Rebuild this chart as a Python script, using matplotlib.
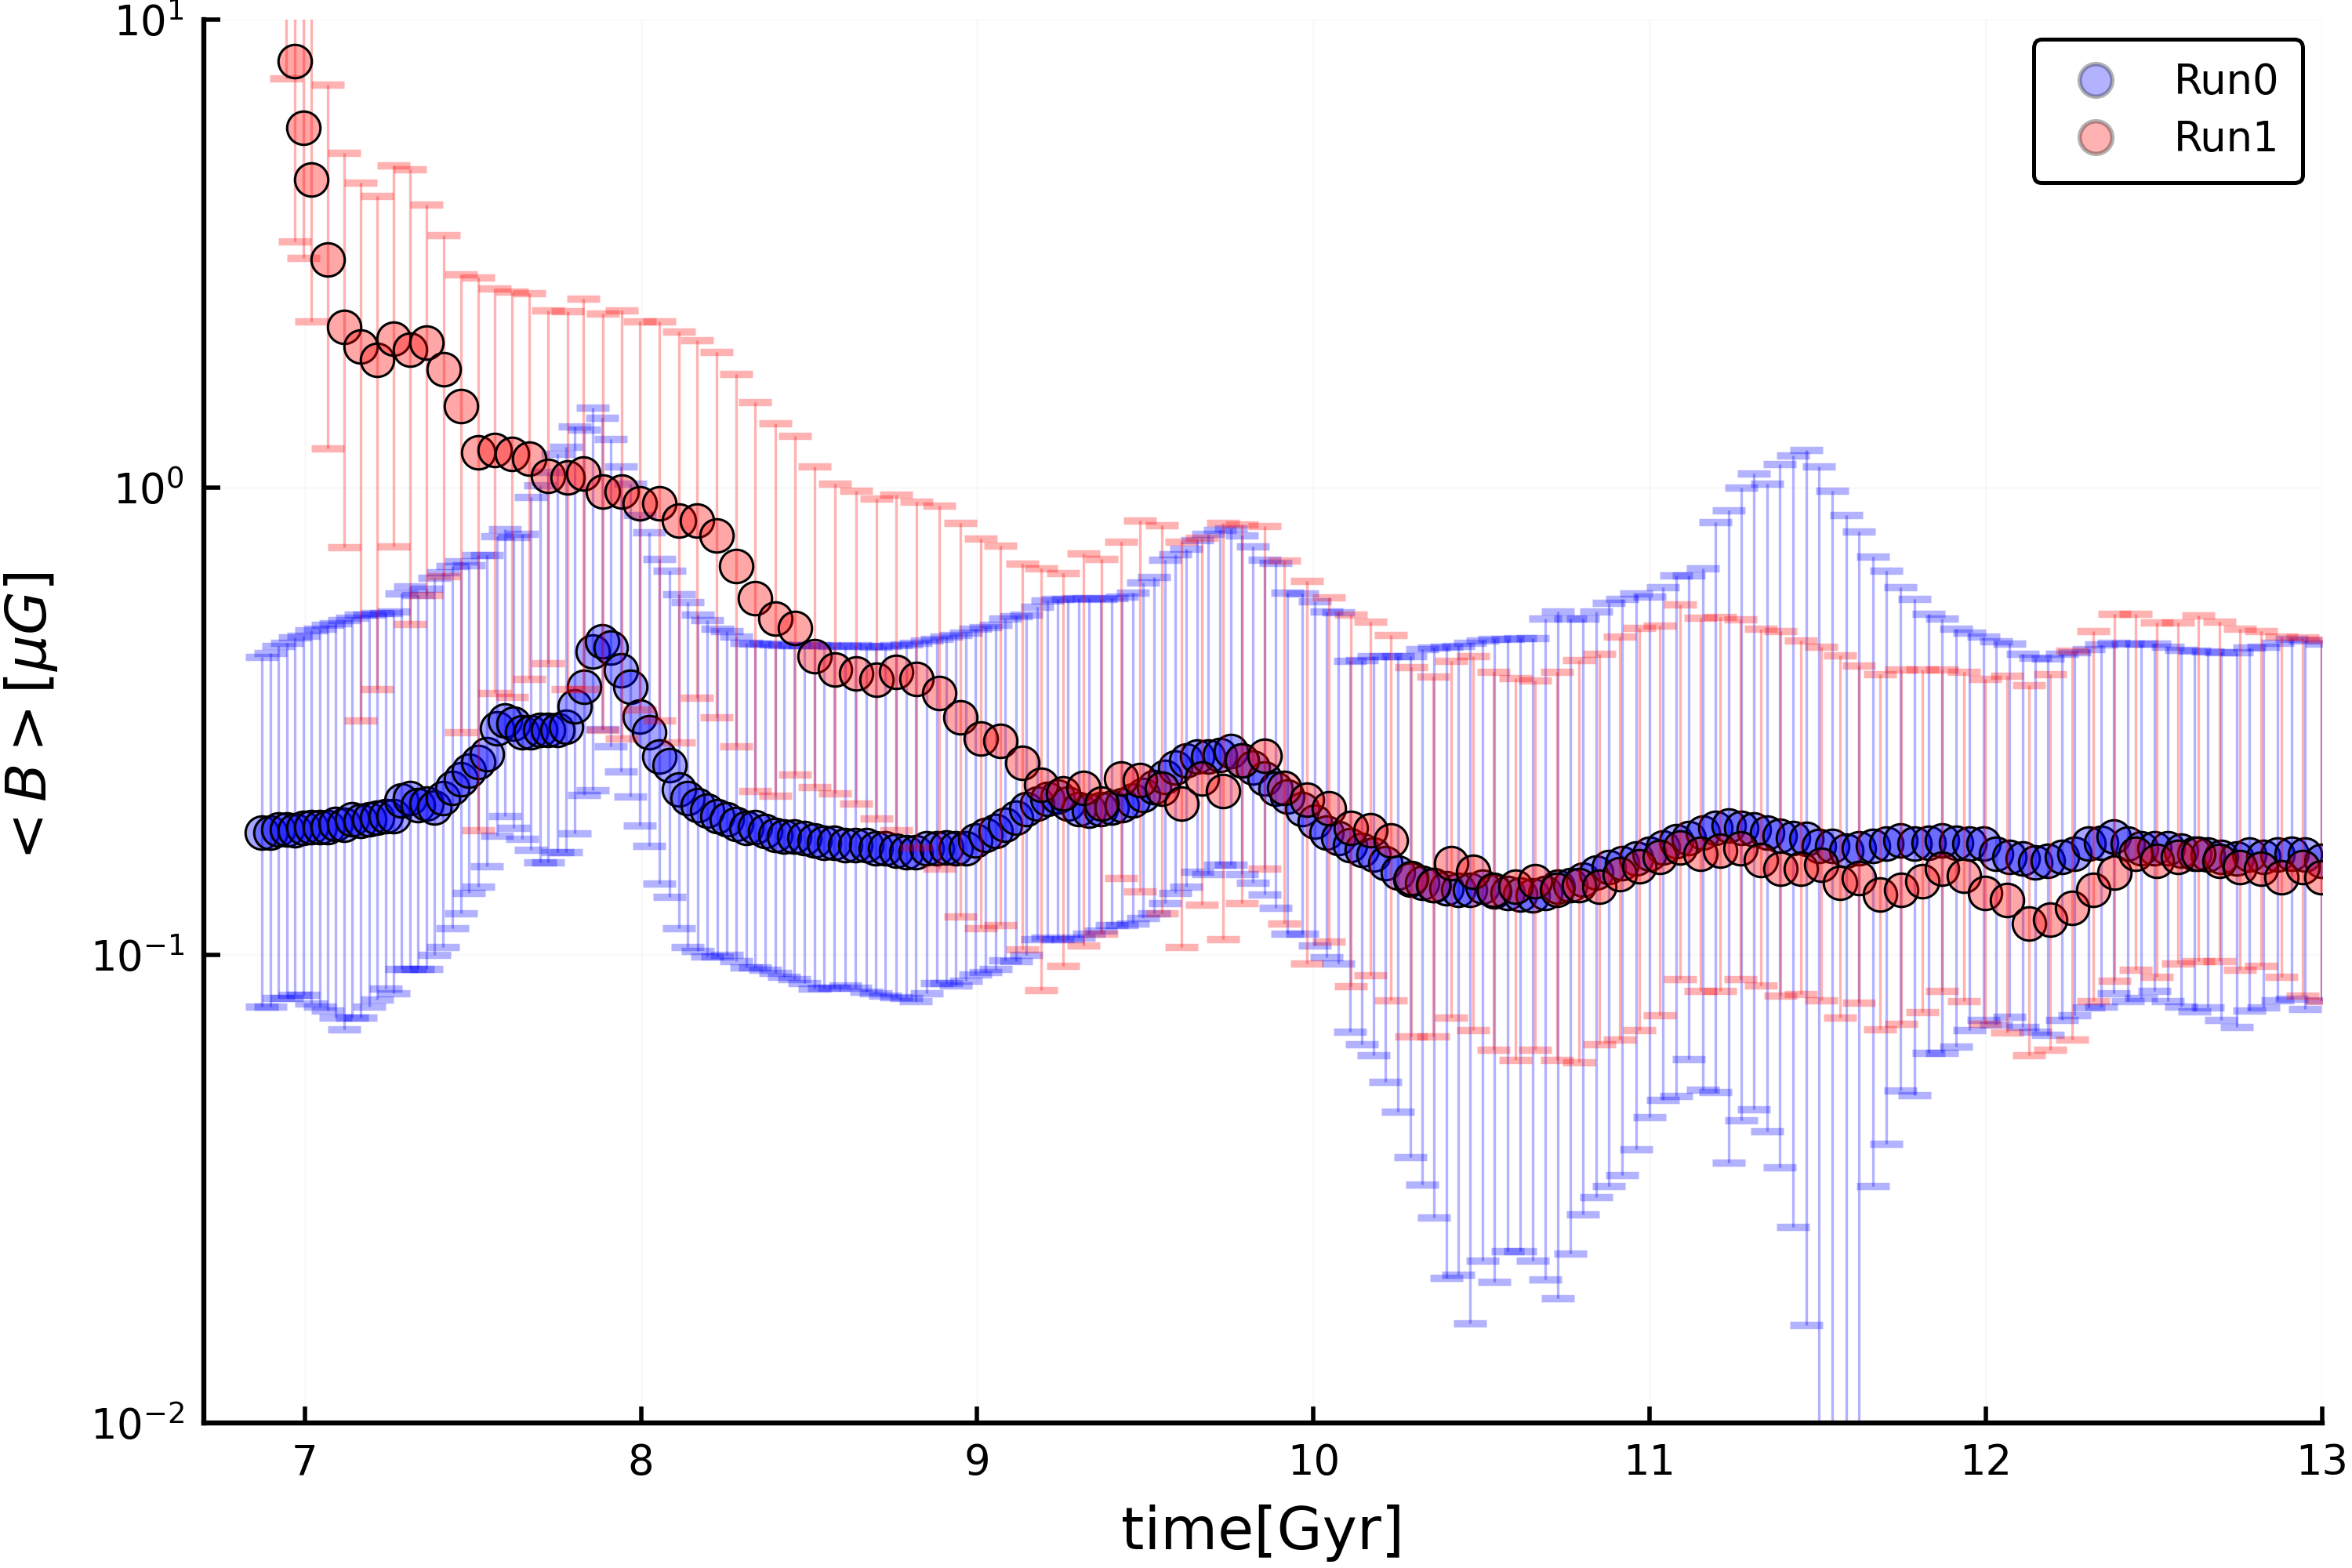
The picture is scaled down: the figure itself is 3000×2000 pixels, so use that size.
import numpy as np
import matplotlib
matplotlib.use('Agg')
import matplotlib.pyplot as plt
from matplotlib.lines import Line2D
from matplotlib.ticker import NullLocator

# Run0 : time [Gyr], mean <B> [muG], lower and upper end of the error bar
run0_t = [6.873, 6.897, 6.922, 6.946, 6.970, 6.996, 7.019, 7.045, 7.068, 7.092, 7.116, 7.141, 7.167, 7.191,
          7.215, 7.240, 7.264, 7.288, 7.312, 7.336, 7.362, 7.386, 7.411, 7.438, 7.464, 7.489, 7.515, 7.542,
          7.571, 7.595, 7.620, 7.647, 7.672, 7.699, 7.724, 7.751, 7.776, 7.803, 7.830, 7.857, 7.885, 7.911,
          7.940, 7.968, 7.997, 8.025, 8.054, 8.084, 8.112, 8.138, 8.169, 8.197, 8.226, 8.254, 8.283, 8.313,
          8.340, 8.370, 8.399, 8.426, 8.456, 8.485, 8.517, 8.544, 8.574, 8.606, 8.638, 8.670, 8.699, 8.725,
          8.758, 8.788, 8.817, 8.849, 8.879, 8.907, 8.937, 8.966, 8.995, 9.025, 9.055, 9.084, 9.116, 9.146,
          9.178, 9.209, 9.239, 9.269, 9.301, 9.333, 9.368, 9.400, 9.430, 9.462, 9.494, 9.526, 9.558, 9.590,
          9.622, 9.654, 9.687, 9.721, 9.755, 9.787, 9.819, 9.855, 9.887, 9.922,
          9.967, 10.004, 10.038, 10.074, 10.109, 10.143, 10.178, 10.213, 10.250, 10.288, 10.323, 10.359,
          10.395, 10.430, 10.466, 10.502, 10.539, 10.577, 10.614, 10.651, 10.689, 10.726, 10.764, 10.801,
          10.841, 10.879, 10.919, 10.959, 10.999, 11.040, 11.080, 11.117, 11.157, 11.195, 11.235, 11.272,
          11.310, 11.349, 11.387, 11.427, 11.465,
          11.504, 11.543, 11.584, 11.623, 11.663, 11.704, 11.746, 11.788, 11.830, 11.870, 11.912, 11.951,
          11.993, 12.031, 12.071, 12.109, 12.146, 12.185, 12.227, 12.264, 12.305, 12.342, 12.381, 12.423,
          12.461, 12.501, 12.541, 12.581, 12.620, 12.659, 12.700, 12.745, 12.784, 12.825, 12.867, 12.909,
          12.950, 12.997]
run0_mean = [0.183, 0.183, 0.186, 0.186, 0.185, 0.187, 0.188, 0.188, 0.188, 0.191, 0.190, 0.195, 0.194, 0.195,
             0.197, 0.198, 0.198, 0.214, 0.217, 0.209, 0.211, 0.207, 0.217, 0.228, 0.238, 0.248, 0.259, 0.269,
             0.305, 0.318, 0.313, 0.300, 0.300, 0.303, 0.303, 0.303, 0.308, 0.340, 0.375, 0.446, 0.469, 0.455,
             0.406, 0.375, 0.324, 0.300, 0.266, 0.255, 0.226, 0.217, 0.209, 0.204, 0.198, 0.195, 0.191, 0.187,
             0.188, 0.184, 0.181, 0.179, 0.179, 0.178, 0.176, 0.174, 0.174, 0.172, 0.172, 0.172, 0.169, 0.169,
             0.167, 0.166, 0.166, 0.169, 0.169, 0.170, 0.169, 0.169, 0.176, 0.181, 0.184, 0.190, 0.197, 0.205,
             0.211, 0.216, 0.218, 0.211, 0.205, 0.204, 0.205, 0.207, 0.209, 0.214, 0.220, 0.229, 0.240, 0.252,
             0.261, 0.266, 0.266, 0.268, 0.273, 0.261, 0.252, 0.239, 0.227, 0.218,
             0.205, 0.193, 0.183, 0.178, 0.172, 0.168, 0.164, 0.157, 0.150, 0.145, 0.143, 0.141,
             0.139, 0.138, 0.138, 0.140, 0.137, 0.136, 0.135, 0.134, 0.136, 0.140, 0.141, 0.145,
             0.150, 0.154, 0.157, 0.161, 0.165, 0.170, 0.175, 0.178, 0.183, 0.187, 0.189, 0.187,
             0.186, 0.183, 0.180, 0.178, 0.177,
             0.171, 0.171, 0.167, 0.169, 0.171, 0.173, 0.176, 0.173, 0.174, 0.176, 0.174, 0.173,
             0.173, 0.165, 0.162, 0.161, 0.158, 0.159, 0.162, 0.165, 0.173, 0.174, 0.179, 0.173,
             0.169, 0.169, 0.169, 0.167, 0.165, 0.164, 0.162, 0.161, 0.164, 0.162, 0.164, 0.165,
             0.164, 0.159]
run0_lo = [0.0775, 0.0775, 0.0809, 0.081, 0.0822, 0.0822, 0.0787, 0.0775, 0.076, 0.0734, 0.0695, 0.0734, 0.0734,
           0.0777, 0.0805, 0.0847, 0.083, 0.0935, 0.0935, 0.0935, 0.0935, 0.10, 0.104, 0.114, 0.123, 0.136, 0.14,
           0.155, 0.18, 0.198, 0.187, 0.177, 0.168, 0.158, 0.158, 0.166, 0.166, 0.182, 0.22, 0.225, 0.304, 0.28,
           0.247, 0.218, 0.189, 0.171, 0.142, 0.133, 0.114, 0.104, 0.102, 0.0995, 0.0995, 0.10, 0.097, 0.094,
           0.094, 0.093, 0.0915, 0.09, 0.089, 0.087, 0.0848, 0.085, 0.085, 0.0863, 0.085, 0.0835, 0.083, 0.082,
           0.0814, 0.081, 0.0796, 0.083, 0.0871, 0.087, 0.0863, 0.088, 0.0908, 0.092, 0.0935, 0.0973, 0.097,
           0.10, 0.108, 0.109, 0.108, 0.108, 0.109, 0.111, 0.113, 0.116, 0.116, 0.117, 0.12, 0.123, 0.129,
           0.136, 0.14, 0.151, 0.149, 0.156, 0.156, 0.149, 0.143, 0.135, 0.126, 0.111,
           0.111, 0.105, 0.099, 0.096, 0.0687, 0.0646, 0.061, 0.0535, 0.0462, 0.037, 0.0323, 0.0275,
           0.0204, 0.0207, 0.0163, 0.0222, 0.020, 0.0233, 0.0233, 0.0222, 0.0203, 0.0185, 0.023, 0.0279,
           0.0304, 0.0321, 0.0339, 0.0385, 0.0451, 0.049, 0.050, 0.060, 0.0516, 0.051, 0.036, 0.0443,
           0.0469, 0.042, 0.0352, 0.0262, 0.0162,
           0.001, 0.001, 0.001, 0.001, 0.0321, 0.0395, 0.0513, 0.0502, 0.0617, 0.0617, 0.0638, 0.069,
           0.0728, 0.071, 0.0738, 0.0702, 0.0686, 0.0675, 0.0728, 0.0743, 0.0773, 0.0775, 0.083, 0.0796,
           0.081, 0.0838, 0.0796, 0.0775, 0.0757, 0.0773, 0.0728, 0.0702, 0.076, 0.0773, 0.0799, 0.0808,
           0.0766, 0.08]
run0_hi = [0.434, 0.443, 0.458, 0.466, 0.477, 0.482, 0.495, 0.499, 0.508, 0.513, 0.520, 0.526, 0.535, 0.535,
           0.539, 0.539, 0.543, 0.593, 0.615, 0.589, 0.608, 0.641, 0.659, 0.679, 0.695, 0.682, 0.717, 0.717,
           0.787, 0.815, 0.782, 0.796, 0.955, 1.01, 1.08, 1.18, 1.22, 1.35, 1.33, 1.48, 1.41, 1.27,
           1.11, 1.02, 0.873, 0.80, 0.703, 0.664, 0.591, 0.569, 0.535, 0.520, 0.499, 0.493, 0.480, 0.466,
           0.463, 0.463, 0.461, 0.46, 0.46, 0.46, 0.46, 0.459, 0.458, 0.458, 0.46, 0.458, 0.456, 0.458,
           0.46, 0.462, 0.465, 0.47, 0.474, 0.48, 0.484, 0.49, 0.499, 0.503, 0.508, 0.525, 0.53, 0.535,
           0.555, 0.573, 0.578, 0.578, 0.58, 0.58, 0.578, 0.58, 0.585, 0.596, 0.627, 0.644, 0.70, 0.72,
           0.74, 0.77, 0.795, 0.81, 0.816, 0.79, 0.748, 0.70, 0.69, 0.596,
           0.593, 0.571, 0.543, 0.540, 0.426, 0.428, 0.435, 0.435, 0.435, 0.435, 0.451, 0.455,
           0.456, 0.458, 0.465, 0.471, 0.475, 0.475, 0.476, 0.476, 0.525, 0.543, 0.525, 0.525,
           0.543, 0.567, 0.578, 0.593, 0.585, 0.612, 0.648, 0.648, 0.670, 0.843, 0.893, 1.0,
           1.07, 1.02, 1.12, 1.17, 1.2,
           1.11, 0.985, 0.871, 0.806, 0.711, 0.664, 0.612, 0.578, 0.537, 0.525, 0.499, 0.49,
           0.48, 0.469, 0.464, 0.441, 0.432, 0.43, 0.44, 0.444, 0.451, 0.461, 0.465, 0.463,
           0.463, 0.463, 0.456, 0.45, 0.448, 0.445, 0.444, 0.444, 0.454, 0.456, 0.466, 0.474,
           0.47, 0.463]

# Run1
run1_t = [6.945, 6.970, 6.996, 7.019, 7.068, 7.116, 7.165, 7.215, 7.264, 7.312, 7.362, 7.413, 7.464, 7.515,
          7.565, 7.615, 7.667, 7.724, 7.781, 7.828, 7.886, 7.942, 7.997, 8.054, 8.112, 8.167, 8.224, 8.283,
          8.340, 8.400, 8.457, 8.517, 8.576, 8.640, 8.700, 8.758, 8.820, 8.886, 8.950, 9.010, 9.068, 9.133,
          9.190, 9.256, 9.315, 9.370, 9.427, 9.485, 9.550, 9.608, 9.667, 9.732, 9.786, 9.855, 9.914,
          9.980, 10.047, 10.110, 10.170, 10.230, 10.290, 10.355, 10.410, 10.475, 10.535, 10.600, 10.660,
          10.725, 10.790, 10.850, 10.910, 10.970, 11.030, 11.090, 11.150, 11.210, 11.270, 11.330, 11.390,
          11.450, 11.510,
          11.567, 11.622, 11.685, 11.748, 11.810, 11.870, 11.935, 11.998, 12.063, 12.128, 12.190, 12.256,
          12.320, 12.383, 12.445, 12.508, 12.571, 12.632, 12.695, 12.755, 12.818, 12.880, 12.942, 12.998]
run1_mean = [13.0, 8.15, 5.87, 4.55, 3.07, 2.2, 2.0, 1.87, 2.08, 1.97, 2.04, 1.79, 1.49, 1.19,
             1.20, 1.18, 1.15, 1.06, 1.05, 1.07, 0.98, 0.98, 0.925, 0.925, 0.85, 0.85, 0.79, 0.68,
             0.58, 0.525, 0.50, 0.435, 0.408, 0.40, 0.388, 0.404, 0.39, 0.363, 0.322, 0.29, 0.287, 0.258,
             0.231, 0.222, 0.228, 0.211, 0.239, 0.237, 0.227, 0.211, 0.239, 0.224, 0.261, 0.267, 0.228,
             0.215, 0.206, 0.187, 0.185, 0.176, 0.146, 0.141, 0.157, 0.151, 0.138, 0.140, 0.144,
             0.138, 0.141, 0.140, 0.149, 0.155, 0.162, 0.170, 0.165, 0.167, 0.169, 0.160, 0.153,
             0.153, 0.156,
             0.143, 0.146, 0.135, 0.138, 0.144, 0.153, 0.148, 0.136, 0.131, 0.117, 0.119, 0.126,
             0.138, 0.150, 0.165, 0.159, 0.162, 0.165, 0.159, 0.154, 0.153, 0.147, 0.154, 0.147]
run1_lo = [7.5, 3.35, 3.09, 2.26, 1.21, 0.745, 0.318, 0.371, 0.748, 0.51, 0.589, 0.645, 0.30, 0.185,
           0.363, 0.357, 0.39, 0.42, 0.37, 0.37, 0.303, 0.29, 0.335, 0.318, 0.285, 0.355, 0.323, 0.28,
           0.224, 0.219, 0.243, 0.229, 0.222, 0.211, 0.196, 0.185, 0.17, 0.153, 0.121, 0.114, 0.116, 0.103,
           0.0843, 0.095, 0.105, 0.111, 0.146, 0.137, 0.123, 0.104, 0.128, 0.108, 0.129, 0.153, 0.117,
           0.096, 0.107, 0.0857, 0.0904, 0.080, 0.067, 0.067, 0.0736, 0.069, 0.0627, 0.0598, 0.0627,
           0.0597, 0.0589, 0.0646, 0.0659, 0.069, 0.0743, 0.089, 0.084, 0.084, 0.089, 0.086, 0.082,
           0.0824, 0.080,
           0.0734, 0.079, 0.0694, 0.0712, 0.0755, 0.0838, 0.0796, 0.0712, 0.0683, 0.061, 0.0627, 0.066,
           0.0796, 0.0883, 0.093, 0.090, 0.096, 0.097, 0.097, 0.093, 0.095, 0.090, 0.082, 0.0797]
run1_hi = [30.0, 30.0, 30.0, 30.0, 7.26, 5.19, 4.48, 4.2, 4.87, 4.79, 4.03, 3.46, 2.85, 2.81,
           2.66, 2.62, 2.6, 2.39, 2.38, 2.53, 2.35, 2.39, 2.26, 2.26, 2.15, 2.06, 1.95, 1.75,
           1.52, 1.37, 1.29, 1.11, 1.02, 0.985, 0.948, 0.966, 0.933, 0.915, 0.838, 0.778, 0.752, 0.687,
           0.67, 0.656, 0.723, 0.703, 0.766, 0.85, 0.83, 0.766, 0.78, 0.84, 0.834, 0.826, 0.698,
           0.63, 0.582, 0.535, 0.516, 0.484, 0.413, 0.394, 0.425, 0.436, 0.403, 0.391, 0.387,
           0.403, 0.428, 0.441, 0.48, 0.50, 0.507, 0.562, 0.526, 0.528, 0.522, 0.499, 0.493,
           0.471, 0.457,
           0.438, 0.416, 0.399, 0.408, 0.408, 0.408, 0.403, 0.39, 0.396, 0.377, 0.398, 0.448,
           0.493, 0.537, 0.537, 0.514, 0.514, 0.532, 0.517, 0.499, 0.493, 0.48, 0.478, 0.473]


def draw_run(ax, t, mean, lo, hi, rgb, z):
    t = np.array(t)
    mean = np.array(mean)
    yerr = [mean - np.array(lo), np.array(hi) - mean]
    ax.errorbar(t, mean, yerr=yerr, fmt='none', ecolor=rgb + (0.3,), elinewidth=1.2,
                capsize=7.4, capthick=3.4, zorder=z)
    ax.plot(t, mean, ls='none', marker='o', ms=15.3, mfc=rgb + (0.35,), mec='black',
            mew=1.1, zorder=z + 1)


fig = plt.figure(figsize=(15, 10), dpi=200)
ax = fig.add_axes([0.0867, 0.0925, 0.9006, 0.895])
ax.set_yscale('log')

draw_run(ax, run0_t, run0_mean, run0_lo, run0_hi, (0.0, 0.0, 1.0), 2)
draw_run(ax, run1_t, run1_mean, run1_lo, run1_hi, (1.0, 0.0, 0.0), 4)

ax.set_xlim(6.70, 13.0)
ax.set_ylim(0.01, 10)
ax.set_xticks(range(7, 14))
ax.yaxis.set_minor_locator(NullLocator())
ax.tick_params(direction='in', length=7.5, width=2, labelsize=19, pad=9)
for s in ['top', 'right']:
    ax.spines[s].set_visible(False)
for s in ['left', 'bottom']:
    ax.spines[s].set_linewidth(2.3)
ax.grid(True, color='black', alpha=0.025, lw=1)
ax.set_axisbelow(True)

ax.set_xlabel('time[Gyr]', fontsize=27)
ax.set_ylabel(r'$<B>[\mu G]$', fontsize=26)
ax.xaxis.set_label_coords(0.5, -0.058)
ax.yaxis.set_label_coords(-0.068, 0.5)

handles = [Line2D([], [], ls='none', marker='o', ms=15, mfc=(0, 0, 1, 0.3), mec=(0, 0, 0, 0.3), mew=2, label='Run0'),
           Line2D([], [], ls='none', marker='o', ms=15, mfc=(1, 0, 0, 0.3), mec=(0, 0, 0, 0.3), mew=2, label='Run1')]
leg = ax.legend(handles=handles, loc='upper right', bbox_to_anchor=(0.9907, 0.986), borderaxespad=0,
                fontsize=19, fancybox=True, edgecolor='black', framealpha=1, borderpad=0.55,
                handlelength=1.9, handletextpad=0.95, labelspacing=0.4)
leg.get_frame().set_linewidth(1.8)

fig.savefig('out.png', dpi=200)
